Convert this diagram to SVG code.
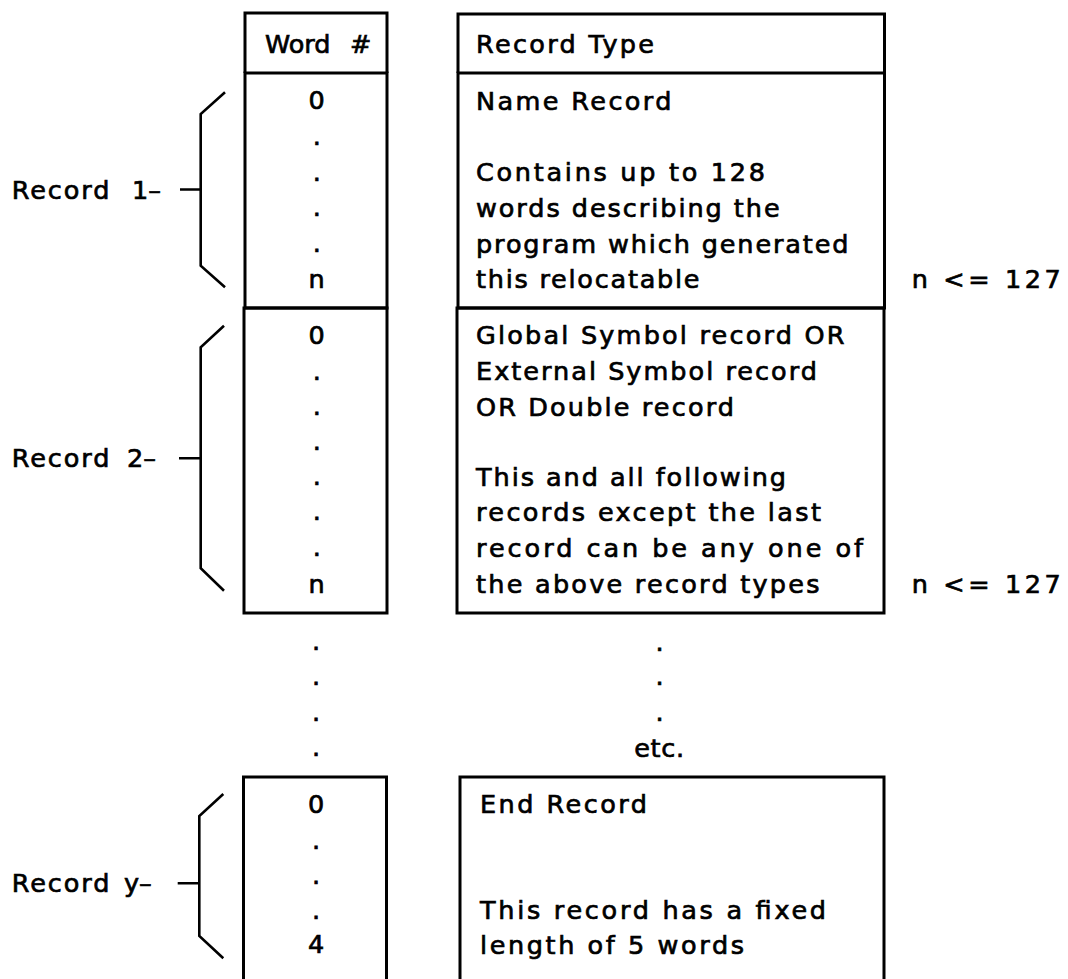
<svg xmlns="http://www.w3.org/2000/svg" width="1068" height="979" viewBox="0 0 1068 979">
<style>
  .bg{fill:#ffffff}
  .box{fill:none;stroke:#000;stroke-width:3;stroke-linejoin:miter}
  .br{fill:none;stroke:#000;stroke-width:2.6;stroke-linejoin:miter}
  text{font-family:"DejaVu Sans","Liberation Sans",sans-serif;font-size:25.5px;fill:#000;stroke:#000;stroke-width:0.7}
  .c{text-anchor:middle}
</style>
<rect class="bg" x="0" y="0" width="1068" height="979"/>

<g id="header-word">
  <path class="box" d="M245,73 V13 H387 V73"/>
  <text x="265" y="52.7">Word<tspan x="350">#</tspan></text>
</g>
<g id="header-type">
  <path class="box" d="M458,73 V14 H884.5 V73"/>
  <text x="476" y="52.7" textLength="178" lengthAdjust="spacing">Record Type</text>
</g>

<g id="rec1-words">
  <path class="box" d="M245,73 H387 V308 H245 Z"/>
  <text class="c" x="316.7" y="109.3">0</text>
  <text class="c" x="316.7" y="145.4">.</text>
  <text class="c" x="316.7" y="180.7">.</text>
  <text class="c" x="316.7" y="216.4">.</text>
  <text class="c" x="316.7" y="252.1">.</text>
  <text class="c" x="316.7" y="288.3">n</text>
</g>
<g id="rec1-type">
  <path class="box" d="M458,73 H884.5 V308 H458 Z"/>
  <text x="476" y="109.5" textLength="195.5" lengthAdjust="spacing">Name Record</text>
  <text x="476" y="181.3" textLength="289" lengthAdjust="spacing">Contains up to 128</text>
  <text x="476" y="217" textLength="303.6" lengthAdjust="spacing">words describing the</text>
  <text x="476" y="252.7" textLength="372.5" lengthAdjust="spacing">program which generated</text>
  <text x="476" y="288.3" textLength="223.5" lengthAdjust="spacing">this relocatable</text>
</g>
<text id="rec1-limit" x="911.8" y="288.3" textLength="149" lengthAdjust="spacing">n &lt;= 127</text>

<g id="rec2-words">
  <path class="box" d="M244,308 H387 V613 H244 Z"/>
  <text class="c" x="316.7" y="344">0</text>
  <text class="c" x="316.7" y="379.7">.</text>
  <text class="c" x="316.7" y="414.7">.</text>
  <text class="c" x="316.7" y="449.7">.</text>
  <text class="c" x="316.7" y="484.7">.</text>
  <text class="c" x="316.7" y="520.4">.</text>
  <text class="c" x="316.7" y="555.7">.</text>
  <text class="c" x="316.7" y="592.7">n</text>
</g>
<g id="rec2-type">
  <path class="box" d="M457,308 H884 V613 H457 Z"/>
  <text x="476" y="344" textLength="368.5" lengthAdjust="spacing">Global Symbol record OR</text>
  <text x="476" y="380.3" textLength="341" lengthAdjust="spacing">External Symbol record</text>
  <text x="476" y="415.5" textLength="258" lengthAdjust="spacing">OR Double record</text>
  <text x="476" y="485.5" textLength="310" lengthAdjust="spacing">This and all following</text>
  <text x="476" y="521" textLength="345" lengthAdjust="spacing">records except the last</text>
  <text x="476" y="556.5" textLength="387" lengthAdjust="spacing">record can be any one of</text>
  <text x="476" y="592.7" textLength="343.5" lengthAdjust="spacing">the above record types</text>
</g>
<text id="rec2-limit" x="911.8" y="592.7" textLength="149" lengthAdjust="spacing">n &lt;= 127</text>

<g id="ellipsis-words">
  <text class="c" x="316" y="650.1">.</text>
  <text class="c" x="316" y="684.7">.</text>
  <text class="c" x="316" y="720.7">.</text>
  <text class="c" x="316" y="756.4">.</text>
</g>
<g id="ellipsis-type">
  <text class="c" x="659.5" y="650.7">.</text>
  <text class="c" x="659.5" y="685.4">.</text>
  <text class="c" x="659.5" y="720.7">.</text>
  <text x="634.2" y="756.7" textLength="50" lengthAdjust="spacing">etc.</text>
</g>

<g id="recy-words">
  <path class="box" d="M243.5,990 V777 H386.5 V990"/>
  <text class="c" x="316" y="812.7">0</text>
  <text class="c" x="316" y="848.7">.</text>
  <text class="c" x="316" y="883.7">.</text>
  <text class="c" x="316" y="918.7">.</text>
  <text class="c" x="316" y="953.3">4</text>
</g>
<g id="recy-type">
  <path class="box" d="M460,990 V777 H884 V990"/>
  <text x="480" y="812.7" textLength="167" lengthAdjust="spacing">End Record</text>
  <text x="480" y="919.3" textLength="346" lengthAdjust="spacing">This record has a fixed</text>
  <text x="480" y="953.5" textLength="264" lengthAdjust="spacing">length of 5 words</text>
</g>

<g id="labels">
  <text x="11.7" y="199.3"><tspan textLength="97.7" lengthAdjust="spacing">Record</tspan><tspan x="132">1–</tspan></text>
  <text x="11.7" y="466.7"><tspan textLength="97.7" lengthAdjust="spacing">Record</tspan><tspan x="127">2–</tspan></text>
  <text x="11.7" y="891.7"><tspan textLength="97.7" lengthAdjust="spacing">Record</tspan><tspan x="124">y–</tspan></text>
</g>

<g id="connectors">
  <path class="br" d="M225,92.3 L200.7,114 V265.7 L225,287.3 M180,189.5 H200.7"/>
  <path class="br" d="M224,325.7 L200.7,347.3 V568.3 L224,590.7 M179,458.3 H200.7"/>
  <path class="br" d="M223.3,794 L199.3,816 V936 L223.3,958.3 M177.7,883.3 H199.3"/>
</g>
</svg>
